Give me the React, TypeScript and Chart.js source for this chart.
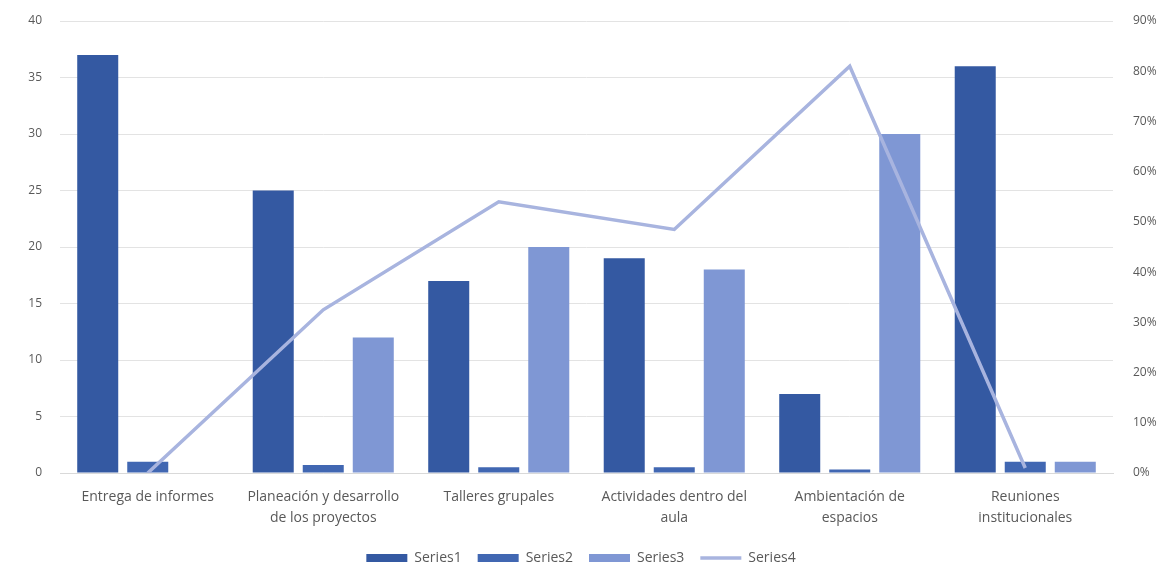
import React, { useEffect, useRef } from "react";
import { Chart, registerables } from "chart.js";

Chart.register(...registerables);

const categories: (string | string[])[] = [
  "Entrega de informes",
  ["Planeación y desarrollo", "de los proyectos"],
  "Talleres grupales",
  ["Actividades dentro del", "aula"],
  ["Ambientación de", "espacios"],
  ["Reuniones", "institucionales"],
];
const series1 = [37, 25, 17, 19, 7, 36];
const series2 = [1, 0.7, 0.5, 0.5, 0.3, 1];
const series3 = [0, 12, 20, 18, 30, 1];
const series4 = [0, 0.325, 0.54, 0.485, 0.81, 0.01];
const leftTicks = [0, 5, 10, 15, 20, 25, 30, 35, 40];

const FONT = "'Open Sans', 'Liberation Sans', sans-serif";

export default function App() {
  const ref = useRef<HTMLCanvasElement | null>(null);
  useEffect(() => {
    if (!ref.current) return;
    const chart = new Chart(ref.current, {
      type: "bar",
      data: {
        labels: categories,
        datasets: [
          {
            type: "line",
            label: "Series4",
            data: series4,
            yAxisID: "y1",
            borderColor: "#A8B4DF",
            backgroundColor: "#A8B4DF",
            borderWidth: 3.5,
            pointRadius: 0,
            pointStyle: "line",
            order: 0,
          } as any,
          {
            label: "Series1",
            data: series1,
            backgroundColor: "#3459A2",
            yAxisID: "y",
            pointStyle: "rect",
            order: 1,
          } as any,
          {
            label: "Series2",
            data: series2,
            backgroundColor: "#4167B2",
            yAxisID: "y",
            pointStyle: "rect",
            order: 1,
          } as any,
          {
            label: "Series3",
            data: series3,
            backgroundColor: "#7F97D4",
            yAxisID: "y",
            pointStyle: "rect",
            order: 1,
          } as any,
        ],
      },
      options: {
        animation: false,
        responsive: true,
        maintainAspectRatio: false,
        layout: { padding: { left: 0, right: 2, top: 21, bottom: -4 } },
        datasets: { bar: { categoryPercentage: 0.855, barPercentage: 0.82 } } as any,
        scales: {
          x: {
            grid: { display: false },
            border: { display: true, color: "#D9D9D9" },
            ticks: {
              color: "#595959",
              font: { family: FONT, size: 14, lineHeight: 1.5 },
              maxRotation: 0,
              autoSkip: false,
              padding: 6,
            },
          },
          y: {
            position: "left",
            min: 0,
            max: 40,
            afterBuildTicks: (axis: any) => {
              axis.ticks = leftTicks.map((v) => ({ value: v }));
            },
            afterFit: (axis: any) => {
              axis.width = 60;
              axis.paddingTop = 0;
            },
            grid: { color: "#E3E3E3", drawTicks: false },
            border: { display: false },
            ticks: {
              color: "#595959",
              font: { family: FONT, size: 12 },
              padding: 18,
            },
          },
          y1: {
            position: "right",
            min: 0,
            max: 0.9,
            afterFit: (axis: any) => {
              axis.width = 49;
              axis.paddingTop = 0;
            },
            grid: { display: false, drawTicks: false },
            border: { display: false },
            ticks: {
              stepSize: 0.1,
              color: "#595959",
              font: { family: FONT, size: 12 },
              padding: 20,
              callback: (v: any) => Math.round(Number(v) * 100) + "%",
            },
          },
        },
        plugins: {
          legend: {
            position: "bottom",
            labels: {
              usePointStyle: true,
              pointStyleWidth: 41,
              boxHeight: 8,
              color: "#595959",
              font: { family: FONT, size: 14 },
              padding: 16,
              sort: (a: any, b: any) => a.text.localeCompare(b.text),
            },
          },
          tooltip: { enabled: false },
        },
      },
    });
    return () => chart.destroy();
  }, []);
  return (
    <div style={{ position: "fixed", left: 0, top: 0, width: 1164, height: 571, background: "#fff" }}>
      <canvas ref={ref} />
    </div>
  );
}
